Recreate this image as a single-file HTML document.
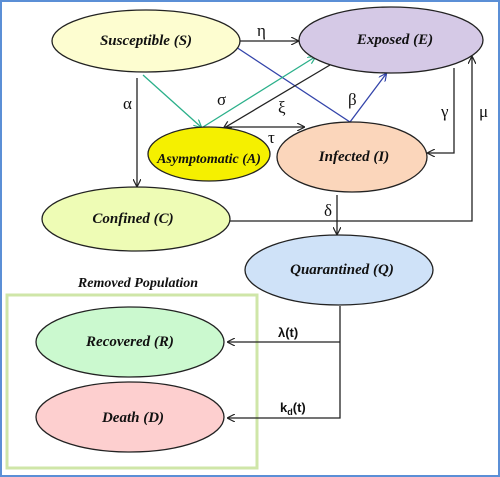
<!DOCTYPE html>
<html><head><meta charset="utf-8"><style>
html,body{margin:0;padding:0;background:#fff;}
svg{display:block;}
.lbl{font-family:"Liberation Serif",serif;font-style:italic;font-weight:bold;font-size:15px;fill:#111;}
.g{font-family:"Liberation Serif","DejaVu Serif",serif;font-size:17px;fill:#111;}
.s{font-family:"Liberation Sans",sans-serif;font-weight:bold;font-size:13px;fill:#111;}
</style></head><body>
<svg width="500" height="477" viewBox="0 0 500 477">
<defs>
<marker id="ab" markerWidth="8" markerHeight="8" refX="7" refY="4" orient="auto" markerUnits="userSpaceOnUse"><path d="M0,0 L8,4 L0,8" fill="none" stroke="#222" stroke-width="1.2"/></marker>
<marker id="ag" markerWidth="8" markerHeight="8" refX="7" refY="4" orient="auto" markerUnits="userSpaceOnUse"><path d="M0,0 L8,4 L0,8" fill="none" stroke="#2bb08a" stroke-width="1.2"/></marker>
<marker id="au" markerWidth="8" markerHeight="8" refX="7" refY="4" orient="auto" markerUnits="userSpaceOnUse"><path d="M0,0 L8,4 L0,8" fill="none" stroke="#3344aa" stroke-width="1.2"/></marker>
</defs>
<rect x="1" y="1" width="498" height="475" fill="#fff" stroke="#5b8fd6" stroke-width="2"/>
<rect x="7" y="295" width="250" height="173" fill="none" stroke="#cfe6a8" stroke-width="3"/>
<text x="138" y="287" text-anchor="middle" class="lbl" style="font-size:14px">Removed Population</text>

<g fill="none" stroke-width="1.3">
<line x1="240" y1="41" x2="298" y2="41" stroke="#222" marker-end="url(#ab)"/>
<polyline points="236,47 350,122 386,74" stroke="#3344aa" marker-end="url(#au)"/>
<line x1="143" y1="75" x2="201" y2="127" stroke="#2bb08a" marker-end="url(#ag)"/>
<line x1="203" y1="127" x2="315" y2="57" stroke="#2bb08a" marker-end="url(#ag)"/>
<line x1="330" y1="65" x2="224" y2="128" stroke="#222" marker-end="url(#ab)"/>
<line x1="224" y1="127" x2="304" y2="127" stroke="#222" marker-end="url(#ab)"/>
<line x1="137" y1="78" x2="137" y2="186" stroke="#222" marker-end="url(#ab)"/>
<polyline points="454,68 454,153 428,153" stroke="#222" marker-end="url(#ab)"/>
<polyline points="229,221 472,221 472,57" stroke="#222" marker-end="url(#ab)"/>
<line x1="337" y1="195" x2="337" y2="234" stroke="#222" marker-end="url(#ab)"/>
<polyline points="340,306 340,418 228,418" stroke="#222" marker-end="url(#ab)"/>
<polyline points="340,342 228,342" stroke="#222" marker-end="url(#ab)"/>
</g>

<g stroke="#222" stroke-width="1.3">
<ellipse cx="146" cy="41" rx="94" ry="31" fill="#fdfdd0"/>
<ellipse cx="391" cy="40" rx="92" ry="33" fill="#d5c9e6"/>
<ellipse cx="209" cy="154" rx="61" ry="27" fill="#f5f000"/>
<ellipse cx="352" cy="157" rx="75" ry="35" fill="#fbd6bb"/>
<ellipse cx="136" cy="219" rx="94" ry="32" fill="#eefcb5"/>
<ellipse cx="339" cy="270" rx="94" ry="35" fill="#cfe2f8"/>
<ellipse cx="130" cy="342" rx="94" ry="35" fill="#cbf9cf"/>
<ellipse cx="130" cy="417" rx="94" ry="35" fill="#fdcfcf"/>
</g>

<text x="146" y="45" text-anchor="middle" class="lbl">Susceptible (S)</text>
<text x="395" y="44" text-anchor="middle" class="lbl">Exposed (E)</text>
<text x="209" y="163" text-anchor="middle" class="lbl" style="font-size:14px">Asymptomatic (A)</text>
<text x="354" y="161" text-anchor="middle" class="lbl">Infected (I)</text>
<text x="133" y="223" text-anchor="middle" class="lbl">Confined (C)</text>
<text x="342" y="274" text-anchor="middle" class="lbl">Quarantined (Q)</text>
<text x="130" y="346" text-anchor="middle" class="lbl">Recovered (R)</text>
<text x="133" y="422" text-anchor="middle" class="lbl">Death (D)</text>

<text x="257" y="36" class="g">η</text>
<text x="123" y="109" class="g">α</text>
<text x="217" y="105" class="g">σ</text>
<text x="278" y="113" class="g">ξ</text>
<text x="348" y="105" class="g">β</text>
<text x="268" y="143" class="g">τ</text>
<text x="441" y="117" class="g">γ</text>
<text x="479" y="117" class="g">μ</text>
<text x="324" y="216" class="g">δ</text>
<text x="278" y="337" class="s">λ(t)</text>
<text x="280" y="412" class="s">k<tspan font-size="9" dy="3">d</tspan><tspan dy="-3">(t)</tspan></text>
</svg>
</body></html>
